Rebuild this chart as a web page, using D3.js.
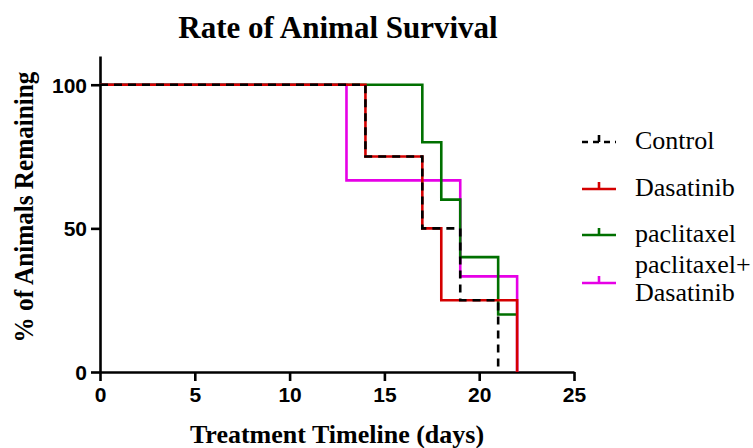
<!DOCTYPE html>
<html>
<head>
<meta charset="utf-8">
<script src="https://cdn.jsdelivr.net/npm/d3@7"></script>
<style>
  body { margin: 0; background: #fff; }
</style>
</head>
<body>
<svg></svg>
<script>
// survival steps: [day, % remaining]
var groups = ["Control", "Dasatinib", "paclitaxel", "paclitaxel+ Dasatinib"];
var colors = ["#000000", "#d40000", "#007000", "#e600e6"];
var controlData = [[0, 100], [14, 75], [17, 50], [19, 25], [21, 0]];
var dasatinibData = [[0, 100], [14, 75], [17, 50], [18, 25], [22, 0]];
var paclitaxelData = [[0, 100], [17, 80], [18, 60], [19, 40], [21, 20], [22, 20]];
var comboData = [[0, 100], [13, 66.7], [19, 33.3], [22, 0]];
var xTicks = [0, 5, 10, 15, 20, 25];
var yTicks = [0, 50, 100];

var width = 753;
var height = 448;
var serif = "'Liberation Serif', 'Times New Roman', serif";
var svg = d3.select("svg")
            .attr("width", width)
            .attr("height", height);

var x = d3.scaleLinear().domain([0, 25]).range([100, 574]);
var y = d3.scaleLinear().domain([0, 110]).range([372, 56]);

// axes
var xAxis = svg.append("g")
   .attr("transform", "translate(0,372)")
   .call(d3.axisBottom(x).tickValues(xTicks).tickSize(9).tickPadding(6).tickSizeOuter(0));
var yAxis = svg.append("g")
   .attr("transform", "translate(100,0)")
   .call(d3.axisLeft(y).tickValues(yTicks).tickSize(9).tickPadding(4).tickSizeOuter(0));

svg.selectAll(".domain, .tick line")
   .attr("stroke", "#000")
   .attr("stroke-width", 2.6);
svg.selectAll(".tick text")
   .attr("font-family", "'Liberation Sans', Arial, sans-serif")
   .attr("font-weight", "bold")
   .attr("font-size", 21)
   .attr("fill", "#000");
yAxis.selectAll(".tick text").attr("dy", "0.36em");

// curves
var line = d3.line()
   .x(function(d) { return x(d[0]); })
   .y(function(d) { return y(d[1]); })
   .curve(d3.curveStepAfter);

var order = [
  {data: comboData, i: 3},
  {data: paclitaxelData, i: 2},
  {data: dasatinibData, i: 1},
  {data: controlData, i: 0}
];
svg.selectAll("path.curve")
   .data(order)
   .enter()
   .append("path")
   .attr("class", "curve")
   .attr("d", function(d) { return line(d.data); })
   .attr("fill", "none")
   .attr("stroke", function(d) { return colors[d.i]; })
   .attr("stroke-width", 2.6)
   .attr("stroke-dasharray", function(d) { return d.i == 0 ? "8,6" : null; });

// legend
var legendY = [142, 189, 235, 283];
var leg = svg.selectAll("g.legend")
   .data(groups)
   .enter()
   .append("g")
   .attr("class", "legend")
   .attr("transform", function(d, i) { return "translate(582," + legendY[i] + ")"; });
leg.append("line")
   .attr("x1", 0).attr("x2", 34)
   .attr("y1", 0).attr("y2", 0)
   .attr("stroke", function(d, i) { return colors[i]; })
   .attr("stroke-width", 2.6)
   .attr("stroke-dasharray", function(d, i) { return i == 0 ? "6,5" : null; });
leg.append("line")
   .attr("x1", 17).attr("x2", 17)
   .attr("y1", 0).attr("y2", -7)
   .attr("stroke", function(d, i) { return colors[i]; })
   .attr("stroke-width", 2.6);
leg.append("text")
   .attr("x", 53)
   .attr("font-family", serif)
   .attr("font-size", 26)
   .attr("fill", "#000")
   .each(function(d, i) {
     var t = d3.select(this);
     if (i == 3) {
       t.append("tspan").attr("x", 53).attr("y", -10).text("paclitaxel+");
       t.append("tspan").attr("x", 53).attr("y", 18).text("Dasatinib");
     } else {
       t.attr("y", 7).text(d);
     }
   });

// titles
svg.append("text")
   .text("Rate of Animal Survival")
   .attr("x", 338)
   .attr("y", 38)
   .attr("text-anchor", "middle")
   .attr("font-family", serif)
   .attr("font-weight", "bold")
   .attr("font-size", 31);
svg.append("text")
   .text("Treatment Timeline (days)")
   .attr("x", 337)
   .attr("y", 443)
   .attr("text-anchor", "middle")
   .attr("font-family", serif)
   .attr("font-weight", "bold")
   .attr("font-size", 26);
svg.append("text")
   .text("% of Animals Remaining")
   .attr("transform", "translate(33,207) rotate(-90) scale(0.9,1)")
   .attr("text-anchor", "middle")
   .attr("font-family", serif)
   .attr("font-weight", "bold")
   .attr("font-size", 28);
</script>
</body>
</html>
